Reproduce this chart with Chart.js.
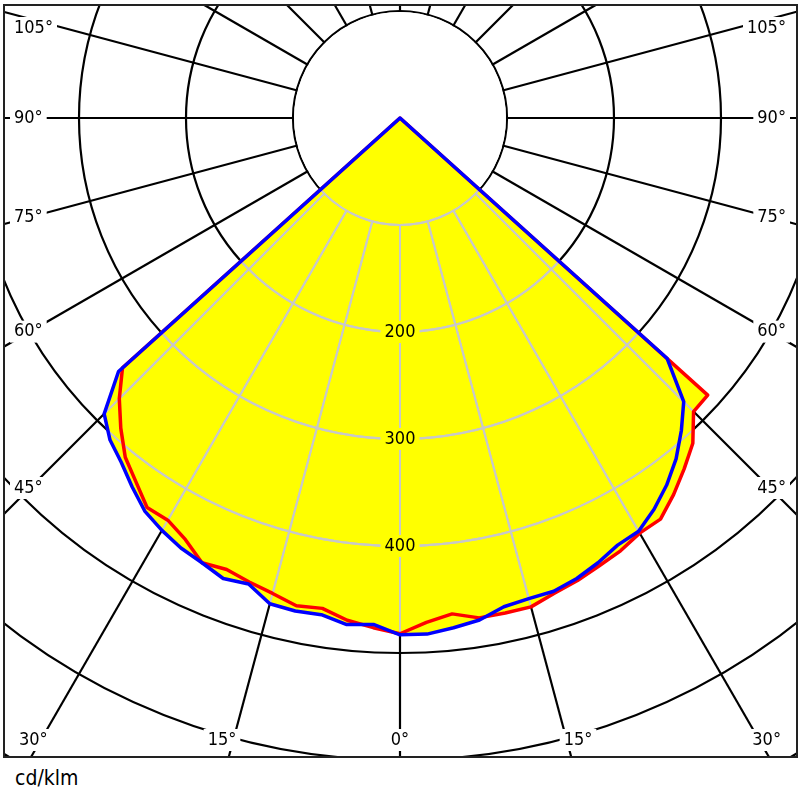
<!DOCTYPE html>
<html>
<head>
<meta charset="utf-8">
<script src="https://cdn.jsdelivr.net/npm/chart.js@4"></script>
<style>
  body { margin: 0; background: #fff; width: 800px; height: 800px; overflow: hidden; position: relative;
         font-family: "DejaVu Sans Condensed", "DejaVu Sans", sans-serif; }
  #plot { position: absolute; left: 3px; top: 4px; width: 795px; height: 754px; overflow: hidden; }
  #plot canvas { position: absolute; }
  #frame { position: absolute; left: 3px; top: 4px; width: 795px; height: 754px; box-sizing: border-box;
           border: 2px solid #222; pointer-events: none; }
  #unit { position: absolute; left: 15px; top: 766px; font-size: 21px; color: #000; }
</style>
</head>
<body>
<div id="plot"><canvas id="chart"></canvas></div>
<div id="frame"></div>
<div id="unit">cd/klm</div>
<script>
// gamma angles (deg), values in cd/klm; above 48 deg everything is 0
const gammaDeg  = [0, 3, 6, 9, 12, 15, 18, 21, 24, 27, 30, 33, 36, 39, 42, 45, 48]
const blueLeft  = [483, 474, 476, 470, 471, 470, 458, 461, 455, 451, 445, 438, 426, 414, 405, 391, 354]
const blueRight = [483, 483, 479, 475, 467, 465, 465, 461, 455, 448, 446, 436, 424, 410, 393, 375, 336]
const redLeft   = [482, 477, 472, 464, 466, 460, 456, 452, 455, 442, 434, 434, 420, 408, 390, 371, 349]
const redRight  = [482, 472, 466, 473, 473, 473, 467, 463, 458, 454, 448, 447, 435, 422, 409, 388, 387]

const tickLabels = [200, 300, 400]
const degLabels = [0, 15, 30, 45, 60, 75, 90, 105]

const step = 3
const labels = []
for (let a = 0; a < 360; a += step) labels.push(a)

function fullCircle(left, right) {
    let arr = labels.map(() => 0)
    for (let k = 0; k < gammaDeg.length; k++) {
        let i = gammaDeg[k] / step
        arr[i] = left[k]
        if (i > 0) arr[labels.length - i] = right[k]
    }
    return arr
}

// layout: pole of the diagram on the page, 100 cd/klm = 107 px
const CX = 400, CY = 118
const MAX = 800
const R = 856
const font = '18px "DejaVu Sans Condensed", "DejaVu Sans", sans-serif'

let canvas = document.getElementById("chart")
canvas.width = 2 * R
canvas.height = 2 * R
canvas.style.left = (CX - R - 3) + "px"
canvas.style.top = (CY - R - 4) + "px"

function polygon(ctx, meta) {
    ctx.beginPath()
    meta.data.forEach((p, i) => i ? ctx.lineTo(p.x, p.y) : ctx.moveTo(p.x, p.y))
    ctx.closePath()
}

function grid(ctx, s, color) {
    ctx.strokeStyle = color
    ctx.lineWidth = 2
    for (let v = 100; v <= MAX; v += 100) {
        ctx.beginPath()
        ctx.arc(s.xCenter, s.yCenter, s.getDistanceFromCenterForValue(v), 0, Math.PI * 2)
        ctx.stroke()
    }
    for (let i = 0; i < labels.length; i++) {
        if (labels[i] % 15) continue
        let a = s.getPointPositionForValue(i, 100)
        let b = s.getPointPositionForValue(i, MAX)
        ctx.beginPath()
        ctx.moveTo(a.x, a.y)
        ctx.lineTo(b.x, b.y)
        ctx.stroke()
    }
}

function label(ctx, text, x, y, align, bg) {
    ctx.font = font
    let w = ctx.measureText(text).width
    let left = align == "center" ? x - w / 2 : align == "right" ? x - w : x
    ctx.fillStyle = bg
    ctx.fillRect(left - 4, y - 11, w + 8, 22)
    ctx.fillStyle = "#000"
    ctx.textAlign = "left"
    ctx.textBaseline = "middle"
    ctx.fillText(text, left, y)
}

const polarPlugin = {
    id: "polar",
    beforeDatasetsDraw(chart) {
        let ctx = chart.ctx, s = chart.scales.r
        let metas = [chart.getDatasetMeta(0), chart.getDatasetMeta(1)]
        let r100 = s.getDistanceFromCenterForValue(100)

        // inner circle stays empty outside the light distribution
        ctx.save()
        ctx.beginPath()
        ctx.arc(s.xCenter, s.yCenter, r100 - 1, 0, Math.PI * 2)
        ctx.clip()
        ctx.fillStyle = "#fff"
        ctx.fillRect(0, 0, chart.width, chart.height)
        ctx.fillStyle = "#ffff00"
        metas.forEach(m => { polygon(ctx, m); ctx.fill() })
        ctx.restore()

        // light grey grid inside the yellow area
        metas.forEach(m => {
            ctx.save()
            polygon(ctx, m)
            ctx.clip()
            grid(ctx, s, "#c8c8c8")
            ctx.restore()
        })

        tickLabels.forEach(v => {
            let p = s.getPointPositionForValue(0, v)
            label(ctx, String(v), p.x, p.y, "center", "#ffff00")
        })
    },
    afterDraw(chart) {
        let ctx = chart.ctx, s = chart.scales.r
        let sideX = 370, bottomY = 622
        degLabels.forEach(a => {
            let sides = a == 0 ? [1] : [-1, 1]
            sides.forEach(sd => {
                let rad = a * Math.PI / 180
                let dx = sd * Math.sin(rad), dy = Math.cos(rad)
                let tSide = Math.abs(dx) > 1e-6 ? sideX / Math.abs(dx) : Infinity
                let tBottom = dy > 1e-6 ? bottomY / dy : Infinity
                let text = a + "°"
                if (tBottom < tSide) {
                    let x = s.xCenter + dx * tBottom
                    let y = s.yCenter + bottomY
                    if (a == 0) {
                        label(ctx, text, x, y, "center", "#fff")
                    } else {
                        ctx.font = font
                        let w = ctx.measureText(text).width
                        if (sd < 0) {
                            let right = Math.max(x + 3, s.xCenter - 381 + w)
                            label(ctx, text, right, y, "right", "#fff")
                        } else {
                            let left = Math.min(x - 3, s.xCenter + 381 - w)
                            label(ctx, text, left, y, "left", "#fff")
                        }
                    }
                } else {
                    let y = Math.max(s.yCenter + dy * tSide, s.yCenter - 90)
                    if (sd < 0) label(ctx, text, s.xCenter - 386, y, "left", "#fff")
                    else label(ctx, text, s.xCenter + 386, y, "right", "#fff")
                }
            })
        })
    }
}

let chart = new Chart(canvas, {
    type: "radar",
    data: {
        labels: labels,
        datasets: [
            {
                label: "C90-C270",
                data: fullCircle(blueLeft, blueRight),
                borderColor: "#0000ff",
                backgroundColor: "#ffff00",
                borderWidth: 3.5,
                fill: "origin"
            },
            {
                label: "C0-C180",
                data: fullCircle(redLeft, redRight),
                borderColor: "#ff0000",
                backgroundColor: "#ffff00",
                borderWidth: 3.5,
                fill: "origin"
            }
        ]
    },
    options: {
        responsive: false,
        animation: false,
        layout: { padding: 0 },
        elements: {
            point: { radius: 0, hoverRadius: 0 },
            line: { tension: 0, borderJoinStyle: "round" }
        },
        plugins: {
            legend: { display: false },
            tooltip: { enabled: false },
            filler: { drawTime: "beforeDatasetsDraw", propagate: false }
        },
        scales: {
            r: {
                min: 0,
                max: MAX,
                startAngle: 180,
                ticks: { display: false, stepSize: 100 },
                pointLabels: { display: false },
                grid: { circular: true, color: "#000", lineWidth: 2.2 },
                angleLines: {
                    display: true,
                    lineWidth: 2.2,
                    color: c => labels[c.index] % 15 == 0 ? "#000" : "rgba(0,0,0,0)"
                }
            }
        }
    },
    plugins: [polarPlugin]
})
</script>
</body>
</html>
